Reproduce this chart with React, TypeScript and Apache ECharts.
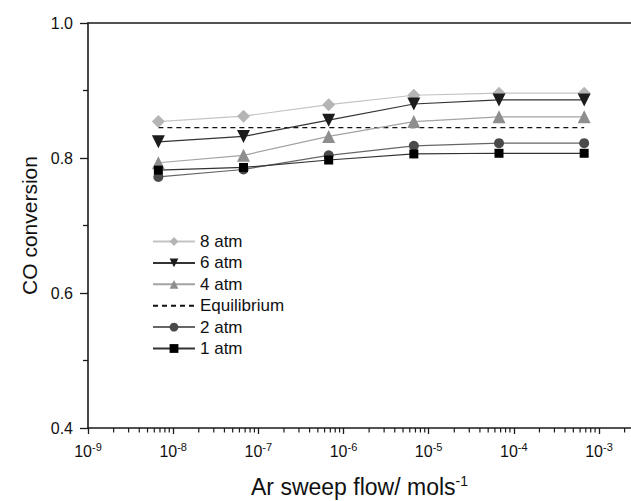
import React, { useEffect, useRef } from "react";
import * as echarts from "echarts";

// Ar sweep flow (mol/s)
const flows = [6.7e-9, 6.7e-8, 6.7e-7, 6.7e-6, 6.7e-5, 6.7e-4];
const atm8 = [0.854, 0.862, 0.879, 0.893, 0.896, 0.896];
const atm6 = [0.824, 0.832, 0.856, 0.88, 0.886, 0.886];
const atm4 = [0.793, 0.804, 0.832, 0.854, 0.861, 0.861];
const equilibrium = [0.845, 0.845, 0.845, 0.845, 0.845, 0.845];
const atm2 = [0.772, 0.783, 0.804, 0.818, 0.822, 0.822];
const atm1 = [0.782, 0.786, 0.797, 0.806, 0.807, 0.807];
const legendNames = ["8 atm", "6 atm", "4 atm", "Equilibrium", "2 atm", "1 atm"];
const xMajorExponents = [-9, -8, -7, -6, -5, -4, -3];
const xMin = -9;
const xMax = -2.624;

const FONT = "Liberation Sans, Arial, Helvetica, sans-serif";

function pts(vals: number[]) {
  return flows.map((f, i) => [Math.log10(f), vals[i]]);
}

export default function App() {
  const ref = useRef<HTMLDivElement>(null);
  useEffect(() => {
    if (!ref.current) return;
    const chart = echarts.init(ref.current, undefined, { renderer: "svg" });
    const minor: number[] = [];
    for (const n of xMajorExponents) {
      for (let k = 2; k <= 9; k++) {
        const v = n + Math.log10(k);
        if (v < xMax) minor.push(v);
      }
    }
    const axisColor = "#1a1a1a";
    const mk = (
      name: string,
      vals: number[],
      symbol: string,
      size: number,
      markerColor: string,
      lineColor: string,
      rotate = 0
    ) => ({
      name,
      type: "line",
      xAxisIndex: 0,
      yAxisIndex: 0,
      data: pts(vals),
      symbol,
      symbolSize: size,
      symbolRotate: rotate,
      itemStyle: { color: markerColor, borderWidth: 0 },
      lineStyle: { color: lineColor, width: 1.2 },
      z: 3,
    });
    chart.setOption({
      animation: false,
      backgroundColor: "#ffffff",
      textStyle: { fontFamily: FONT },
      grid: {
        left: 88,
        right: 0,
        top: 23,
        bottom: 73,
        containLabel: false,
        outerBoundsMode: "none",
      },
      legend: {
        orient: "vertical",
        left: 147,
        top: 228,
        itemWidth: 42,
        itemHeight: 11,
        itemGap: 4.4,
        data: legendNames.map((n) =>
          n === "Equilibrium" ? { name: n, itemStyle: { opacity: 0 } } : { name: n }
        ),
        textStyle: { fontSize: 17, color: "#111", fontFamily: FONT },
      },
      xAxis: [
        {
          type: "value",
          min: xMin,
          max: xMax,
          interval: 1,
          position: "bottom",
          splitLine: { show: false },
          axisLine: { show: true, lineStyle: { color: axisColor, width: 1.6 } },
          axisTick: {
            show: true,
            length: 6,
            customValues: xMajorExponents,
            lineStyle: { color: axisColor, width: 1.3 },
          },
          axisLabel: {
            customValues: xMajorExponents,
            margin: 13,
            formatter: (v: number) => `{b|10}{s|${Math.round(v)}}`,
            rich: {
              b: { fontSize: 16, lineHeight: 20, color: "#111", fontFamily: FONT },
              s: { fontSize: 11, lineHeight: 8, verticalAlign: "top", color: "#111", fontFamily: FONT },
            },
          },
          name: "{n|Ar sweep flow/ mols}{s|-1}",
          nameLocation: "middle",
          nameGap: 46,
          nameTextStyle: {
            rich: {
              n: { fontSize: 23, lineHeight: 26, color: "#111", fontFamily: FONT },
              s: { fontSize: 14, lineHeight: 8, verticalAlign: "top", color: "#111", fontFamily: FONT },
            },
          },
        },
        {
          type: "value",
          min: xMin,
          max: xMax,
          position: "top",
          splitLine: { show: false },
          axisLine: { show: true, lineStyle: { color: axisColor, width: 1.6 } },
          axisLabel: { show: false },
          axisTick: { show: false },
        },
      ],
      yAxis: [
        {
          type: "value",
          min: 0.4,
          max: 1.0,
          interval: 0.2,
          splitLine: { show: false },
          axisLine: { show: true, lineStyle: { color: axisColor, width: 1.6 } },
          axisTick: { show: true, length: 8, lineStyle: { color: axisColor, width: 1.3 } },
          minorTick: { show: true, splitNumber: 2, length: 5, lineStyle: { color: axisColor, width: 1.3 } },
          minorSplitLine: { show: false },
          axisLabel: {
            margin: 15,
            fontSize: 16,
            color: "#111",
            fontFamily: FONT,
            formatter: (v: number) => v.toFixed(1),
          },
          name: "CO conversion",
          nameLocation: "middle",
          nameGap: 45,
          nameTextStyle: { fontSize: 21, color: "#111", fontFamily: FONT },
        },
      ],
      series: [
        mk("8 atm", atm8, "diamond", 13, "#b5b5b5", "#c4c4c4"),
        mk("6 atm", atm6, "triangle", 13, "#1c1c1c", "#333333", 180),
        mk("4 atm", atm4, "triangle", 13, "#8e8e8e", "#a3a3a3"),
        {
          name: "Equilibrium",
          type: "line",
          data: pts(equilibrium),
          symbol: "circle",
          symbolSize: 0,
          showSymbol: false,
          itemStyle: { color: "#111", opacity: 0 },
          lineStyle: { color: "#111", width: 1.4, type: [5, 4], opacity: 1 },
          z: 2,
        },
        mk("2 atm", atm2, "circle", 10, "#4a4a4a", "#666666"),
        mk("1 atm", atm1, "rect", 9, "#000000", "#333333"),
        {
          name: "minorTicks",
          type: "custom",
          silent: true,
          clip: false,
          xAxisIndex: 0,
          yAxisIndex: 0,
          data: minor.map((v) => [v, 0.4]),
          renderItem: (params: any, api: any) => {
            const p = api.coord([api.value(0), api.value(1)]);
            return {
              type: "line",
              shape: { x1: p[0], y1: p[1], x2: p[0], y2: p[1] + 4.5 },
              style: { stroke: axisColor, lineWidth: 1.2 },
            };
          },
          z: 5,
        },
      ],
    });
    return () => chart.dispose();
  }, []);
  return (
    <div
      ref={ref}
      style={{ position: "fixed", left: 0, top: 0, width: 631, height: 501, background: "#fff" }}
    />
  );
}
